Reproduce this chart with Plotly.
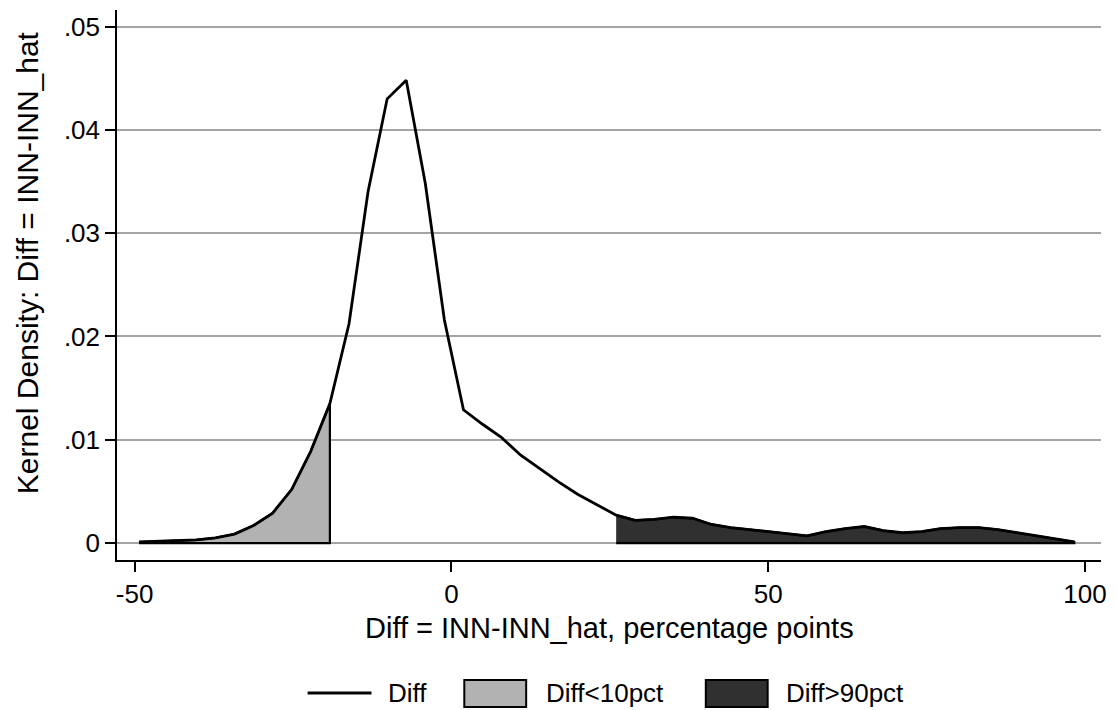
import plotly.graph_objects as go

# Kernel density evaluation grid (percentage points)
x_grid = [-49.3, -46.29, -43.28, -40.26, -37.25, -34.24, -31.23, -28.22, -25.2, -22.19,
          -19.18, -16.17, -13.16, -10.14, -7.13, -4.12, -1.11, 1.9, 4.92, 7.93,
          10.94, 13.95, 16.96, 19.98, 22.99, 26.0, 29.01, 32.02, 35.04, 38.05,
          41.06, 44.07, 47.08, 50.1, 53.11, 56.12, 59.13, 62.14, 65.16, 68.17,
          71.18, 74.19, 77.2, 80.22, 83.23, 86.24, 89.25, 92.26, 95.28, 98.3]
density = [0.0001, 0.00015, 0.0002, 0.0003, 0.0005, 0.00087, 0.0017, 0.0029, 0.0052, 0.0089,
           0.0135, 0.0212, 0.0340, 0.0430, 0.0448, 0.0348, 0.0216, 0.0129, 0.0115, 0.0102,
           0.0085, 0.0072, 0.0059, 0.0047, 0.0037, 0.0027, 0.0022, 0.0023, 0.0025, 0.0024,
           0.0018, 0.0015, 0.0013, 0.0011, 0.0009, 0.0007, 0.0011, 0.0014, 0.0016, 0.0012,
           0.0010, 0.0011, 0.0014, 0.0015, 0.0015, 0.0013, 0.0010, 0.0007, 0.0004, 0.00012]

low_end = 10     # last grid index of the 10th-percentile shaded area
high_start = 25  # first grid index of the 90th-percentile shaded area

series_names = ["Diff", "Diff<10pct", "Diff>90pct"]
fill_colors = ["#b2b2b2", "#303030"]

x_ticks = [-50, 0, 50, 100]
x_ticktext = ["-50", "0", "50", "100"]
y_ticks = [0, 0.01, 0.02, 0.03, 0.04, 0.05]
y_ticktext = ["0", ".01", ".02", ".03", ".04", ".05"]

x_title = "Diff = INN-INN_hat, percentage points"
y_title = "Kernel Density: Diff = INN-INN_hat"

FONT = "Liberation Sans, Arial, sans-serif"

fig = go.Figure()

# Lower tail area
lx = x_grid[:low_end + 1]
ly = density[:low_end + 1]
fig.add_trace(go.Scatter(
    x=lx + [lx[-1], lx[0]], y=ly + [0, 0], fill="toself",
    fillcolor=fill_colors[0], line=dict(color="black", width=2.2),
    mode="lines", name=series_names[1], showlegend=False, hoverinfo="skip"))

# Upper tail area
ux = x_grid[high_start:]
uy = density[high_start:]
fig.add_trace(go.Scatter(
    x=ux + [ux[-1], ux[0]], y=uy + [0, 0], fill="toself",
    fillcolor=fill_colors[1], line=dict(color="black", width=2.2),
    mode="lines", name=series_names[2], showlegend=False, hoverinfo="skip"))

# Density line
fig.add_trace(go.Scatter(
    x=x_grid, y=density, mode="lines", name=series_names[0],
    line=dict(color="black", width=2.8), showlegend=False))

L, R, T, B = 117, 14, 10, 150
W, H = 1117, 710
pw, ph = W - L - R, H - T - B

def px_x(p):
    return (p - L) / pw

def px_y(p):
    return (H - B - p) / ph

fig.update_layout(
    width=W, height=H,
    margin=dict(l=L, r=R, t=T, b=B),
    paper_bgcolor="white", plot_bgcolor="white",
    font=dict(family=FONT, size=25, color="black"),
    xaxis=dict(range=[-52.78, 102.52], tickvals=x_ticks, ticktext=x_ticktext,
               ticks="outside", ticklen=10,
               tickwidth=1.5, tickcolor="black", showline=True, linecolor="black",
               linewidth=1.5, showgrid=False, zeroline=False,
               tickfont=dict(family=FONT, size=26, color="black")),
    yaxis=dict(range=[-0.00164, 0.0516], tickvals=y_ticks, ticktext=y_ticktext,
               ticks="outside", ticklen=10, tickwidth=1.5, tickcolor="black",
               showline=True, linecolor="black", linewidth=1.5,
               showgrid=True, gridcolor="#a4a4a4", gridwidth=1.5, zeroline=False,
               tickfont=dict(family=FONT, size=26, color="black")),
)

annotations = [
    dict(text=x_title, x=0.501, y=px_y(628), xref="paper", yref="paper",
         xanchor="center", yanchor="middle", showarrow=False,
         font=dict(family=FONT, size=29, color="black")),
    dict(text=y_title, x=px_x(27), y=px_y(263), xref="paper", yref="paper",
         xanchor="center", yanchor="middle", textangle=-90, showarrow=False,
         font=dict(family=FONT, size=30, color="black")),
]

# Legend (Stata-style wide keys)
leg_y = 693
shapes = [
    dict(type="line", xref="paper", yref="paper", x0=px_x(308), x1=px_x(372),
         y0=px_y(leg_y), y1=px_y(leg_y), line=dict(color="black", width=2.8)),
    dict(type="rect", xref="paper", yref="paper", x0=px_x(465), x1=px_x(527),
         y0=px_y(680), y1=px_y(707), fillcolor=fill_colors[0],
         line=dict(color="black", width=2)),
    dict(type="rect", xref="paper", yref="paper", x0=px_x(707), x1=px_x(769),
         y0=px_y(680), y1=px_y(707), fillcolor=fill_colors[1],
         line=dict(color="black", width=2)),
]
for name, xpos in zip(series_names, [387, 545, 785]):
    annotations.append(dict(text=name, x=px_x(xpos), y=px_y(leg_y), xref="paper", yref="paper",
                            xanchor="left", yanchor="middle", showarrow=False,
                            font=dict(family=FONT, size=26, color="black")))

fig.update_layout(annotations=annotations, shapes=shapes)

fig.write_html("out.html", config={"displayModeBar": False},
               post_script="document.body.style.margin='0px';document.body.style.overflow='hidden';")
